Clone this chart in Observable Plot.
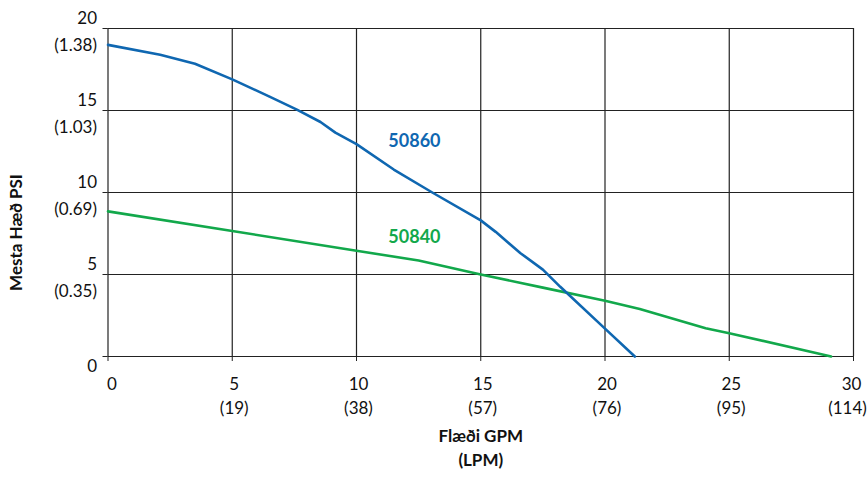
<!DOCTYPE html>
<html>
<head>
<meta charset="utf-8">
<script src="https://cdn.jsdelivr.net/npm/d3@7"></script>
<script src="https://cdn.jsdelivr.net/npm/@observablehq/plot@0.6"></script>
<style>
  html, body { margin: 0; padding: 0; background: #fff; }
  svg { font-family: Lato, "Open Sans", sans-serif; }
</style>
</head>
<body>
<div id="chart"></div>
<script>
// Series 50860 (blue)
const blueX = [0, 2.1, 3.5, 5, 6.5, 7.6, 8.55, 9.15, 10, 11.5, 13.05, 15, 15.6, 16.6, 17.5, 18.2, 20, 21.2];
const blueY = [19.0, 18.4, 17.85, 16.9, 15.85, 15.05, 14.3, 13.65, 12.95, 11.4, 10.0, 8.3, 7.6, 6.3, 5.3, 4.25, 1.7, 0];
// Series 50840 (green)
const greenX = [0, 5, 10, 12.5, 15, 17.5, 20, 21.4, 24.05, 25, 29.1];
const greenY = [8.85, 7.65, 6.45, 5.85, 5.0, 4.2, 3.4, 2.9, 1.72, 1.42, 0];

const xTicks = [0, 5, 10, 15, 20, 25, 30];
const xTickLpm = ["", "(19)", "(38)", "(57)", "(76)", "(95)", "(114)"];
const yTicks = [0, 5, 10, 15, 20];
const yTickBar = ["", "(0.35)", "(0.69)", "(1.03)", "(1.38)"];

const seriesNames = ["50860", "50840"];
const seriesColors = ["#0f67b1", "#12a84b"];
const labelX = [12.33, 12.33];
const labelY = [13.15, 7.3];

const blue = blueX.map((x, i) => ({x, y: blueY[i]}));
const green = greenX.map((x, i) => ({x, y: greenY[i]}));
const labels = seriesNames.map((name, i) => ({name, x: labelX[i], y: labelY[i], color: seriesColors[i]}));
const xt = xTicks.map((v, i) => ({v, lpm: xTickLpm[i]}));
const yt = yTicks.map((v, i) => ({v, bar: yTickBar[i]}));

const tickFont = 17;
const chart = Plot.plot({
  width: 868,
  height: 478,
  marginLeft: 107.5,
  marginRight: 15,
  marginTop: 28,
  marginBottom: 122,
  x: {domain: [0, 30]},
  y: {domain: [0, 20]},
  style: {fontFamily: "Lato, 'Open Sans', sans-serif", background: "#fff"},
  marks: [
    Plot.ruleX(xTicks, {x: d => d, y1: 0, y2: 20, stroke: "#222", strokeWidth: 1.2}),
    Plot.ruleY(yTicks, {y: d => d, x1: 0, x2: 30, stroke: "#222", strokeWidth: 1.2}),
    Plot.axisX({ticks: xTicks, tickSize: 5, tickFormat: () => "", stroke: "#222", label: null}),
    Plot.axisY({ticks: yTicks, tickSize: 5, tickFormat: () => "", stroke: "#222", label: null}),
    Plot.line(green, {x: "x", y: "y", stroke: seriesColors[1], strokeWidth: 2.6}),
    Plot.line(blue, {x: "x", y: "y", stroke: seriesColors[0], strokeWidth: 2.6}),
    Plot.text(labels, {x: "x", y: "y", text: "name", fill: "color", fontWeight: "bold", fontSize: 18}),
    // x tick labels
    Plot.text(xt.filter(d => d.v === 0), {x: "v", y: 0, text: d => String(d.v), dy: 28, dx: 4, fontSize: tickFont, fill: "#111"}),
    Plot.text(xt.filter(d => d.v > 0 && d.v < 30), {x: "v", y: 0, text: d => String(d.v), dy: 28, dx: 2, fontSize: tickFont, fill: "#111"}),
    Plot.text(xt.filter(d => d.v === 30), {x: "v", y: 0, text: d => String(d.v), dy: 28, dx: -2, fontSize: tickFont, fill: "#111"}),
    Plot.text(xt.filter(d => d.v > 0 && d.v < 30), {x: "v", y: 0, text: "lpm", dy: 52, dx: 2, fontSize: tickFont, fill: "#111"}),
    Plot.text(xt.filter(d => d.v === 30), {x: "v", y: 0, text: "lpm", dy: 52, dx: -6, fontSize: tickFont, fill: "#111"}),
    // y tick labels
    Plot.text(yt.filter(d => d.v > 0), {x: 0, y: "v", text: d => String(d.v), dx: -11, dy: -10, textAnchor: "end", fontSize: tickFont, fill: "#111"}),
    Plot.text(yt.filter(d => d.v === 0), {x: 0, y: "v", text: d => String(d.v), dx: -11, dy: 10, textAnchor: "end", fontSize: tickFont, fill: "#111"}),
    Plot.text(yt.filter(d => d.v > 0), {x: 0, y: "v", text: "bar", dx: -11, dy: 17, textAnchor: "end", fontSize: tickFont, fill: "#111"}),
    // axis titles
    Plot.text(["Mesta Hæð PSI"], {frameAnchor: "left", textAnchor: "middle", dx: -91, dy: 40, rotate: -90, fontWeight: "bold", fontSize: 17, fill: "#111"}),
    Plot.text(["Flæði GPM"], {frameAnchor: "bottom", dy: 85, fontWeight: "bold", fontSize: 17, fill: "#111"}),
    Plot.text(["(LPM)"], {frameAnchor: "bottom", dy: 109, fontWeight: "bold", fontSize: 17, fill: "#111"})
  ]
});
document.getElementById("chart").appendChild(chart);
</script>
</body>
</html>
